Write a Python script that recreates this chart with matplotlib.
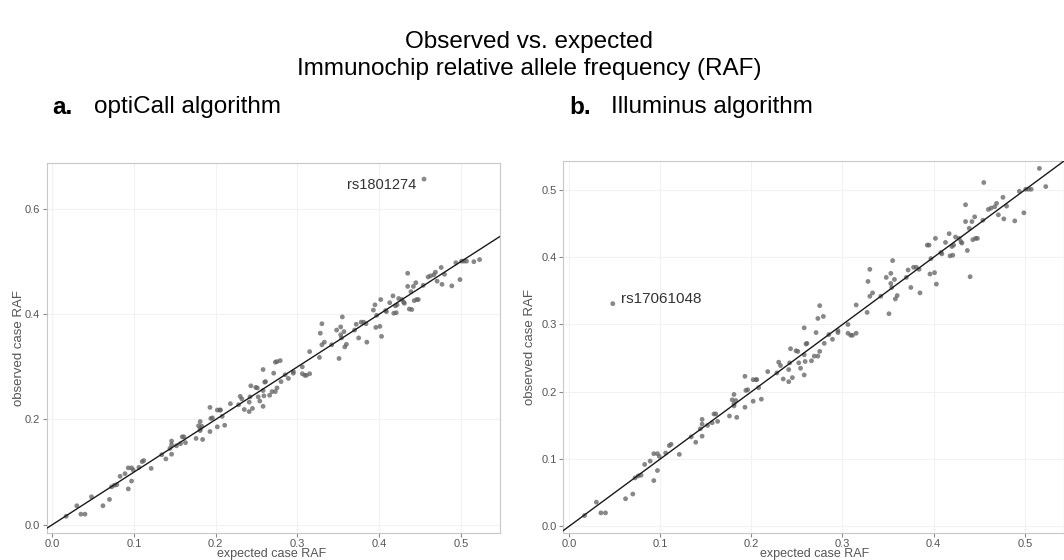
import numpy as np
import matplotlib
matplotlib.use("Agg")
import matplotlib.pyplot as plt
from matplotlib.ticker import MultipleLocator

plt.rcParams['font.family'] = ['Liberation Sans', 'DejaVu Sans']

# expected case RAF (shared by both panels)
expected_raf = [
    0.017, 0.030, 0.035, 0.040, 0.048, 0.062, 0.070, 0.0725, 0.076, 0.079,
    0.083, 0.089, 0.093, 0.097, 0.093, 0.097, 0.099, 0.106, 0.110, 0.112,
    0.121, 0.134, 0.139, 0.144, 0.146, 0.146, 0.146, 0.152, 0.157, 0.159,
    0.161, 0.163, 0.176, 0.179, 0.181, 0.181, 0.181, 0.184, 0.183, 0.193,
    0.193, 0.194, 0.196, 0.202, 0.205, 0.206, 0.202, 0.208, 0.211, 0.218,
    0.228, 0.230, 0.232, 0.235, 0.241, 0.241, 0.243, 0.245, 0.242, 0.249,
    0.251, 0.252, 0.254, 0.258, 0.258, 0.258, 0.259, 0.260, 0.261, 0.266,
    0.269, 0.273, 0.271, 0.273, 0.275, 0.275, 0.279, 0.280, 0.285, 0.289,
    0.295, 0.295, 0.306, 0.306, 0.309, 0.311, 0.315, 0.315, 0.327, 0.328,
    0.330, 0.330, 0.333, 0.342, 0.348, 0.351, 0.353, 0.353, 0.354, 0.355,
    0.357, 0.358, 0.360, 0.370, 0.372, 0.375, 0.378, 0.381, 0.384, 0.385,
    0.393, 0.395, 0.396, 0.397, 0.401, 0.402, 0.403, 0.408, 0.409, 0.413,
    0.417, 0.418, 0.420, 0.422, 0.421, 0.424, 0.428, 0.430, 0.431, 0.435,
    0.435, 0.437, 0.439, 0.440, 0.442, 0.443, 0.445, 0.446, 0.448, 0.454,
    0.455, 0.460, 0.463, 0.467, 0.469, 0.471, 0.476, 0.477, 0.480, 0.489,
    0.494, 0.499, 0.501, 0.504, 0.507, 0.516, 0.523,
]

# observed case RAF, optiCall
observed_opticall = [
    0.016, 0.036, 0.020, 0.020, 0.053, 0.036, 0.048, 0.072, 0.075, 0.076,
    0.092, 0.097, 0.108, 0.108, 0.068, 0.083, 0.104, 0.109, 0.120, 0.122,
    0.107, 0.133, 0.125, 0.145, 0.159, 0.152, 0.134, 0.150, 0.154, 0.167,
    0.167, 0.156, 0.164, 0.188, 0.182, 0.179, 0.196, 0.162, 0.187, 0.223,
    0.177, 0.202, 0.203, 0.218, 0.218, 0.218, 0.186, 0.206, 0.189, 0.230,
    0.228, 0.244, 0.239, 0.219, 0.215, 0.233, 0.264, 0.221, 0.243, 0.261,
    0.260, 0.243, 0.235, 0.295, 0.255, 0.225, 0.245, 0.271, 0.272, 0.246,
    0.253, 0.253, 0.288, 0.309, 0.310, 0.260, 0.312, 0.272, 0.285, 0.278,
    0.288, 0.291, 0.300, 0.287, 0.284, 0.284, 0.287, 0.329, 0.318, 0.364,
    0.382, 0.342, 0.347, 0.342, 0.370, 0.316, 0.376, 0.361, 0.355, 0.395,
    0.367, 0.338, 0.343, 0.370, 0.381, 0.355, 0.385, 0.385, 0.382, 0.347,
    0.408, 0.418, 0.375, 0.398, 0.377, 0.428, 0.358, 0.407, 0.405, 0.422,
    0.435, 0.402, 0.416, 0.418, 0.403, 0.430, 0.428, 0.423, 0.421, 0.478,
    0.453, 0.410, 0.443, 0.409, 0.453, 0.426, 0.460, 0.428, 0.428, 0.455,
    0.657, 0.471, 0.473, 0.475, 0.480, 0.463, 0.489, 0.457, 0.476, 0.454,
    0.498, 0.466, 0.501, 0.501, 0.501, 0.500, 0.504,
]

# observed case RAF, Illuminus
observed_illuminus = [
    0.016, 0.036, 0.020, 0.020, 0.331, 0.041, 0.048, 0.072, 0.075, 0.076,
    0.092, 0.097, 0.108, 0.108, 0.068, 0.083, 0.104, 0.109, 0.120, 0.122,
    0.107, 0.133, 0.125, 0.145, 0.159, 0.152, 0.134, 0.150, 0.154, 0.167,
    0.167, 0.156, 0.164, 0.188, 0.182, 0.179, 0.196, 0.162, 0.187, 0.223,
    0.177, 0.202, 0.203, 0.218, 0.218, 0.218, 0.186, 0.206, 0.189, 0.230,
    0.228, 0.244, 0.239, 0.219, 0.215, 0.233, 0.264, 0.221, 0.243, 0.261,
    0.260, 0.243, 0.235, 0.295, 0.255, 0.225, 0.245, 0.271, 0.272, 0.246,
    0.253, 0.253, 0.288, 0.309, 0.328, 0.260, 0.312, 0.272, 0.285, 0.278,
    0.288, 0.291, 0.300, 0.287, 0.284, 0.284, 0.287, 0.329, 0.318, 0.364,
    0.382, 0.342, 0.347, 0.342, 0.370, 0.316, 0.376, 0.361, 0.355, 0.395,
    0.367, 0.338, 0.343, 0.370, 0.381, 0.355, 0.385, 0.385, 0.382, 0.347,
    0.418, 0.418, 0.375, 0.398, 0.377, 0.428, 0.360, 0.407, 0.405, 0.422,
    0.435, 0.402, 0.416, 0.418, 0.403, 0.430, 0.428, 0.423, 0.421, 0.478,
    0.453, 0.410, 0.443, 0.371, 0.453, 0.426, 0.460, 0.428, 0.428, 0.455,
    0.511, 0.471, 0.473, 0.475, 0.480, 0.463, 0.489, 0.457, 0.476, 0.454,
    0.498, 0.466, 0.501, 0.501, 0.501, 0.532, 0.505,
]

panels = [
    ("a.", "optiCall algorithm", observed_opticall, "rs1801274", 0.455, 0.657),
    ("b.", "Illuminus algorithm", observed_illuminus, "rs17061048", 0.048, 0.331),
]

W, H = 1064, 560
fig = plt.figure(figsize=(W / 100, H / 100), dpi=100)

def px_rect(x0, y0, x1, y1):
    return [x0 / W, 1 - y1 / H, (x1 - x0) / W, (y1 - y0) / H]

ax_a = fig.add_axes(px_rect(46.5, 163, 500, 533))
ax_b = fig.add_axes(px_rect(563, 161, 1064, 533))

limits = [
    ((-0.0071, 0.548), (-0.0158, 0.6876), MultipleLocator(0.2)),
    ((-0.0066, 0.543), (-0.0099, 0.543), MultipleLocator(0.1)),
]
sub_x = [52, 569]
xlab_x = [272, 815]
ylab_x = [19, 530]

for i, (ax, (tag, name, obs, snp, sx, sy), (xl, yl, yloc)) in enumerate(zip([ax_a, ax_b], panels, limits)):
    ax.set_xlim(*xl)
    ax.set_ylim(*yl)
    ax.xaxis.set_major_locator(MultipleLocator(0.1))
    ax.yaxis.set_major_locator(yloc)
    ax.xaxis.set_major_formatter(plt.FuncFormatter(lambda v, p: f"{v:.1f}"))
    ax.yaxis.set_major_formatter(plt.FuncFormatter(lambda v, p: f"{v:.1f}"))
    ax.grid(True, color="#f2f2f2", lw=0.8, zorder=0)
    ax.set_axisbelow(True)
    for sp in ax.spines.values():
        sp.set_color("#c8c8c8")
        sp.set_linewidth(0.8)
    ax.tick_params(colors="#8a8a8a", labelcolor="#555555", labelsize=8,
                   length=3, width=0.8, pad=1.5)

    ax.scatter(expected_raf, obs, s=12, color="#606060", alpha=0.75,
               edgecolors="none", zorder=3)
    ax.axline((0, 0), slope=1, color="#1a1a1a", lw=1.0, zorder=4)

    bb = ax.get_position()
    fig.text(xlab_x[i] / W, 1 - 554.5 / H, "expected case RAF", fontsize=9,
             color="#555555", ha="center", va="center")
    fig.text(ylab_x[i] / W, (bb.y0 + bb.y1) / 2, "observed case RAF", fontsize=9.5,
             color="#555555", rotation=90, ha="center", va="center")

    if sx > 0.3:
        ax.text(sx - 0.01, sy - 0.011, snp, fontsize=10.5, color="#333333",
                ha="right", va="center")
    else:
        ax.text(sx + 0.0086, sy + 0.007, snp, fontsize=11, color="#333333",
                ha="left", va="center")

    fig.text(sub_x[i] / W, 1 - 107 / H, tag, fontsize=17.5, fontweight="bold",
             ha="left", va="center")
    fig.text((sub_x[i] + 42) / W, 1 - 107 / H, name, fontsize=17.5,
             ha="left", va="center")

fig.text(0.497, 1 - 42 / H, "Observed vs. expected", fontsize=17.5,
         ha="center", va="center")
fig.text(0.497, 1 - 69 / H, "Immunochip relative allele frequency (RAF)",
         fontsize=17.5, ha="center", va="center")

fig.savefig("out.png", dpi=100)
